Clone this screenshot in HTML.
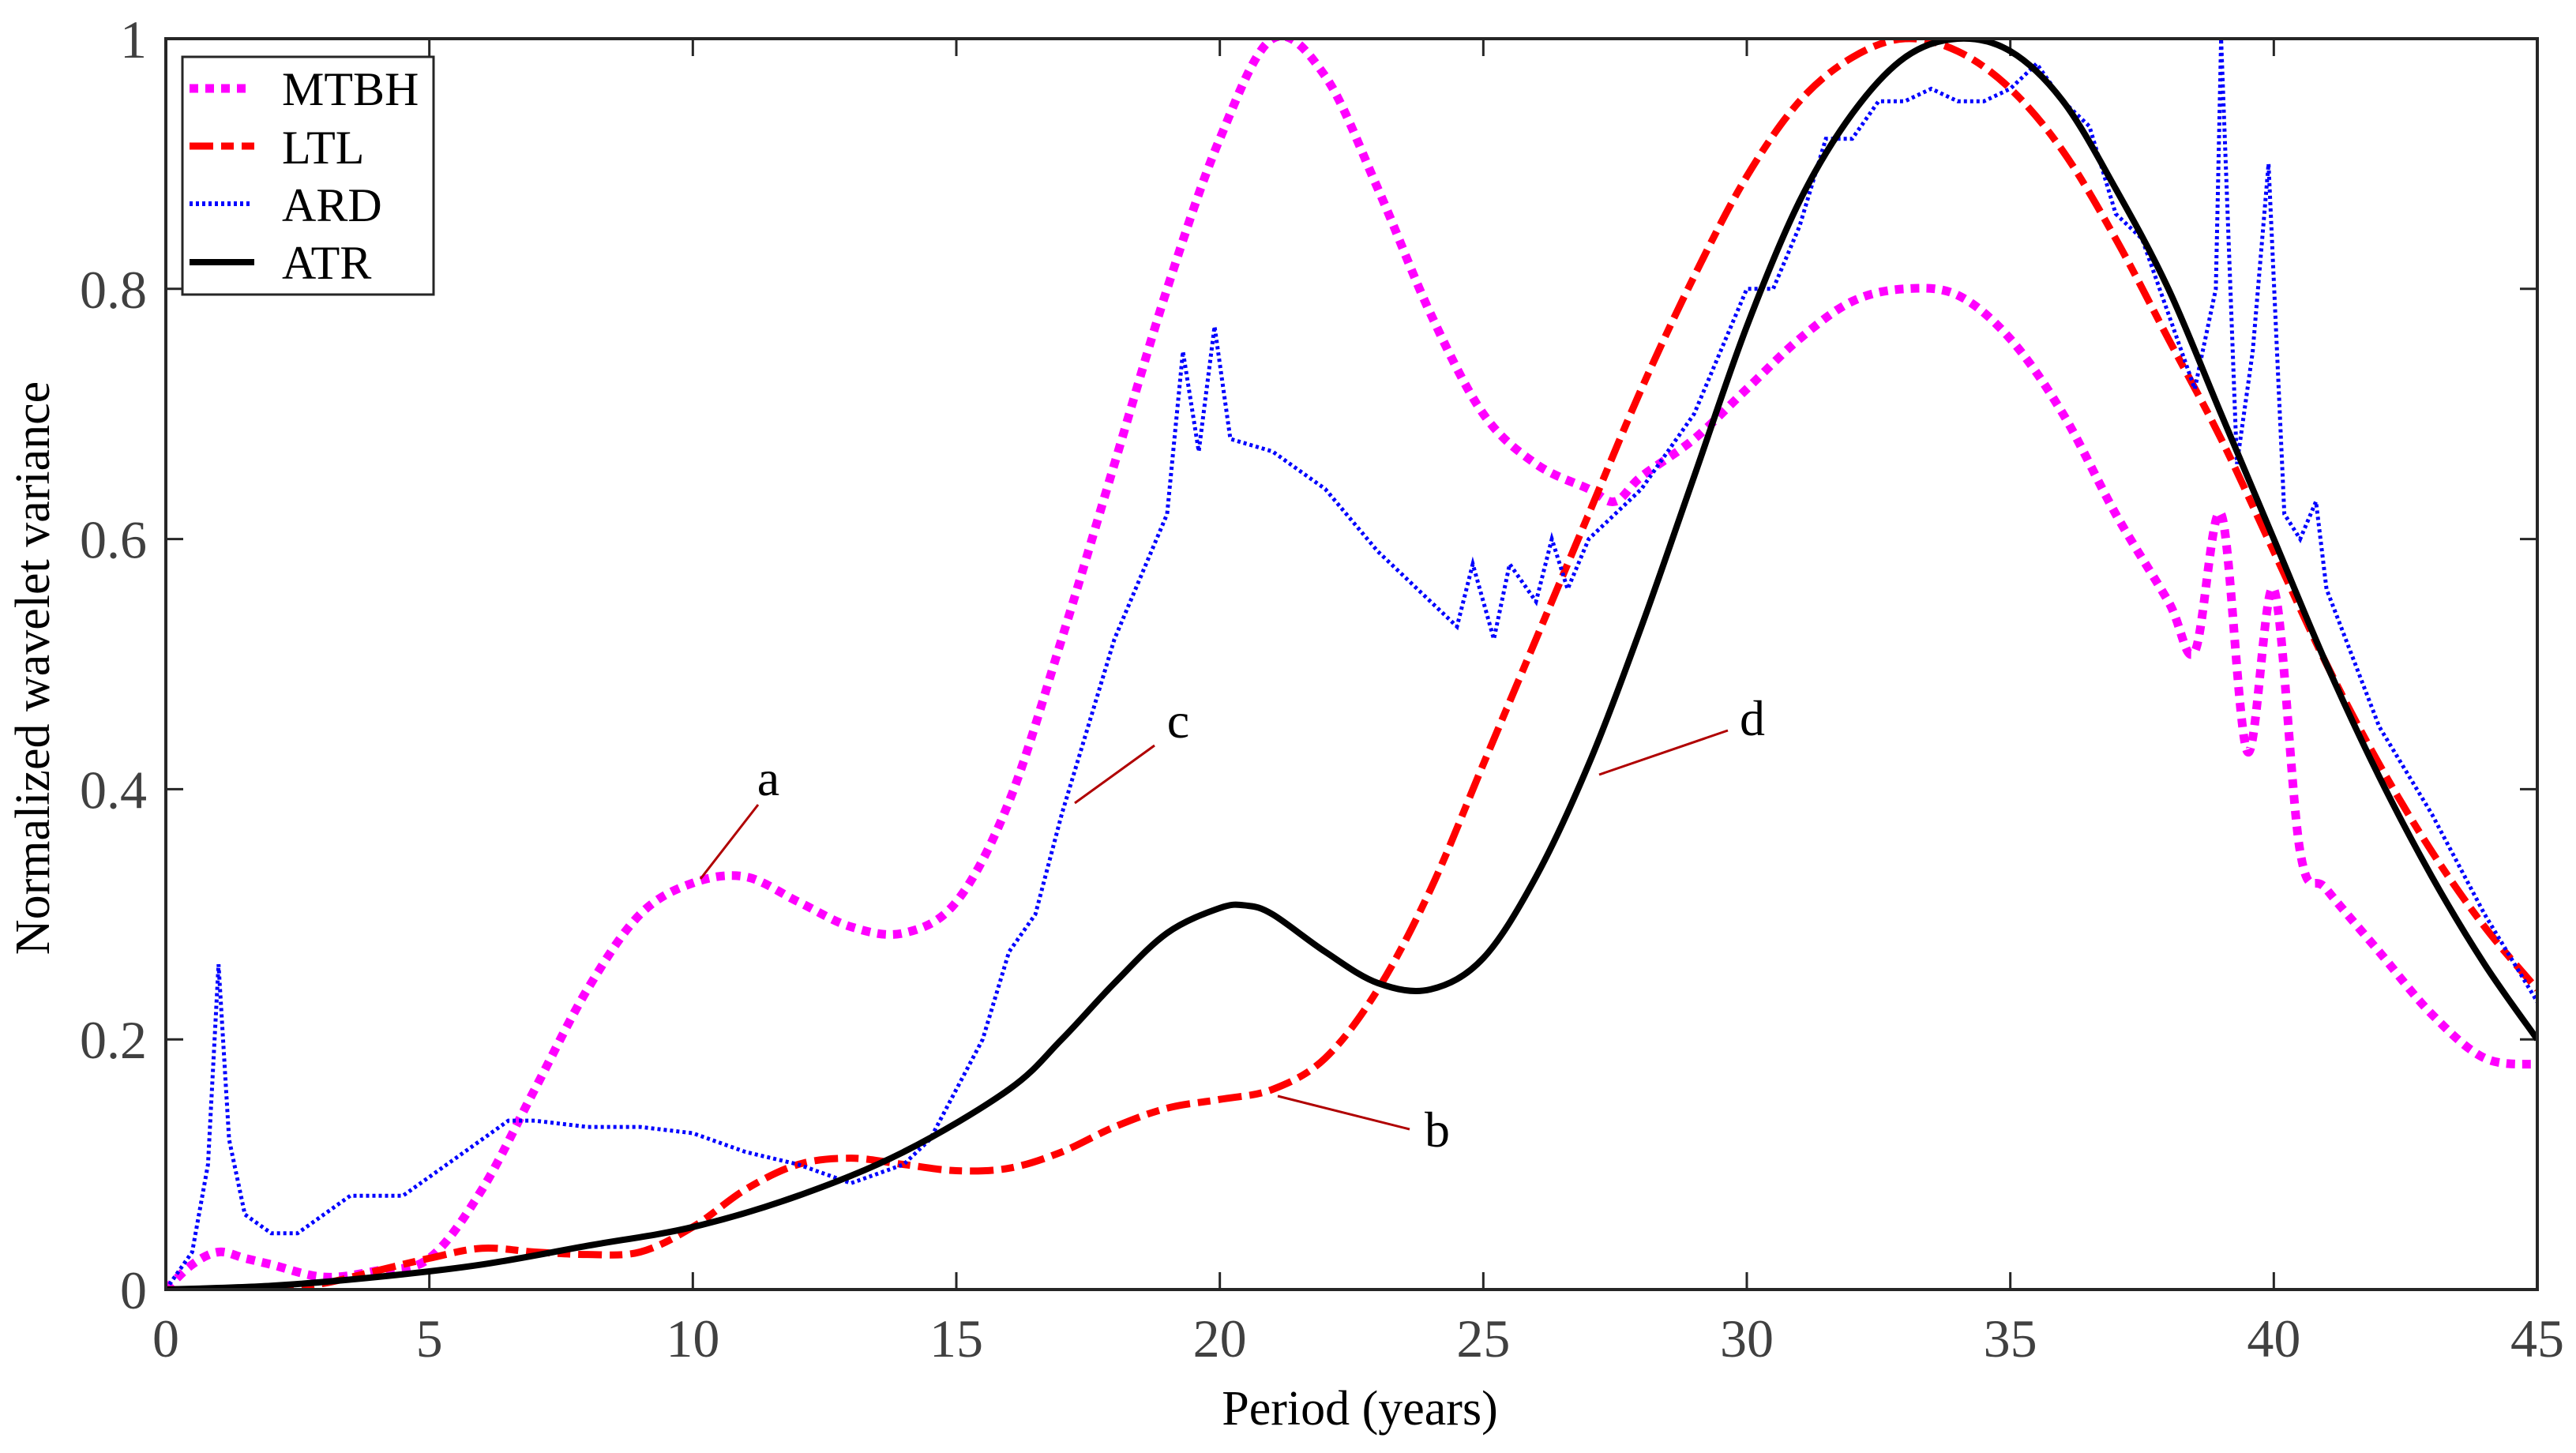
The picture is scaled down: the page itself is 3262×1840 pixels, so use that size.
<!DOCTYPE html>
<html><head><meta charset="utf-8"><style>
html,body{margin:0;padding:0;background:#fff;}
svg{display:block;font-family:"Liberation Serif",serif;}
</style></head><body>
<svg id="chart" width="3262" height="1840" viewBox="0 0 3262 1840">
<rect x="0" y="0" width="3262" height="1840" fill="#fff"/>
<g id="ticks"></g>
<g id="series" clip-path="url(#clip)"></g>
<defs><clipPath id="clip"><rect x="210" y="49" width="3003" height="1584"/></clipPath></defs>
<rect x="210" y="49" width="3003" height="1584" fill="none" stroke="#262626" stroke-width="4"/>
<g id="annot"></g>
<text x="1722" y="1804" font-size="62" text-anchor="middle" fill="#000">Period (years)</text>
<text transform="translate(62,846) rotate(-90)" font-size="62" text-anchor="middle" fill="#000">Normalized wavelet variance</text>
<g>
<rect x="231" y="72" width="318" height="301" fill="#fff" stroke="#262626" stroke-width="3"/>
<line x1="240" y1="112" x2="312" y2="112" stroke="#ff00ff" stroke-width="11" stroke-dasharray="11 9"/>
<text x="357" y="133" font-size="60">MTBH</text>
<line x1="240" y1="185" x2="322" y2="185" stroke="#ff0000" stroke-width="9" stroke-dasharray="30 10 16 10"/>
<text x="357" y="207" font-size="60">LTL</text>
<line x1="240" y1="258" x2="318" y2="258" stroke="#0000ff" stroke-width="6" stroke-dasharray="4 4"/>
<text x="357" y="280" font-size="60">ARD</text>
<line x1="240" y1="332" x2="322" y2="332" stroke="#000" stroke-width="8"/>
<text x="357" y="353" font-size="60">ATR</text>
</g>
</svg>
<script>
const xTicks=[0,5,10,15,20,25,30,35,40,45];
const yTicks=[0,0.2,0.4,0.6,0.8,1];
const yTickLabels=["0","0.2","0.4","0.6","0.8","1"];
const mtbhX=[0,0.5,1,1.5,2,3,4,5,6,7,8,9,10,11,12,13,14,15,16,17,18,19,20,21,22,23,24,25,26,27,27.5,28,29,30,31,32,33,34,35,36,37,38,38.5,39,39.5,40,40.5,41,42,43,44,45];
const mtbhY=[0,0.02,0.03,0.025,0.02,0.01,0.015,0.025,0.08,0.16,0.24,0.3,0.325,0.33,0.31,0.29,0.285,0.31,0.39,0.52,0.66,0.8,0.92,1.0,0.97,0.88,0.78,0.7,0.66,0.64,0.63,0.65,0.68,0.72,0.76,0.79,0.8,0.795,0.76,0.7,0.62,0.55,0.51,0.62,0.43,0.56,0.35,0.32,0.27,0.22,0.185,0.18];
const ltlX=[0,2,3,4,5,6,7,8,9,10,11,12,13,14,15,16,17,18,19,20,21,22,23,24,25,26,27,28,29,30,31,32,33,34,35,36,37,38,39,40,41,42,43,44,45];
const ltlY=[0,0,0.005,0.015,0.025,0.033,0.03,0.028,0.03,0.05,0.08,0.1,0.105,0.1,0.095,0.097,0.11,0.13,0.145,0.152,0.16,0.185,0.24,0.32,0.42,0.52,0.62,0.72,0.81,0.89,0.95,0.985,1.0,0.99,0.96,0.91,0.84,0.76,0.68,0.59,0.5,0.42,0.35,0.29,0.24];
const atrX=[0,2,4,6,8,10,12,14,16,17,18,19,20,20.5,21,22,23,24,25,26,27,28,29,30,31,32,33,34,35,36,37,38,39,40,41,42,43,44,45];
const atrY=[0,0.003,0.01,0.02,0.035,0.05,0.075,0.11,0.16,0.2,0.245,0.285,0.305,0.307,0.3,0.27,0.245,0.24,0.265,0.33,0.42,0.53,0.65,0.77,0.87,0.94,0.985,1.0,0.99,0.95,0.88,0.8,0.7,0.6,0.5,0.41,0.33,0.26,0.2];
const ardX=[0,0.5,0.8,1,1.2,1.5,2,2.5,3,3.5,4,4.5,5,6,6.5,7,8,9,10,11,12,13,14,14.5,15,15.5,16,16.5,17,17.5,18,18.5,19,19.3,19.6,19.9,20.2,21,22,23,24,24.5,24.8,25.2,25.5,26,26.3,26.6,27,27.5,28,29,30,30.5,31,31.5,32,32.5,33,33.5,34,34.5,35,35.5,36,36.5,37,37.5,38,38.5,38.9,39,39.3,39.6,39.9,40.2,40.5,40.8,41,42,43,44,45];
const ardY=[0,0.03,0.1,0.26,0.12,0.06,0.045,0.045,0.06,0.075,0.075,0.075,0.09,0.12,0.135,0.135,0.13,0.13,0.125,0.11,0.1,0.085,0.1,0.12,0.16,0.2,0.27,0.3,0.38,0.45,0.52,0.57,0.62,0.75,0.67,0.77,0.68,0.67,0.64,0.59,0.55,0.53,0.58,0.52,0.58,0.55,0.6,0.56,0.6,0.62,0.64,0.7,0.8,0.8,0.85,0.92,0.92,0.95,0.95,0.96,0.95,0.95,0.96,0.98,0.95,0.93,0.86,0.84,0.78,0.72,0.8,1.0,0.66,0.75,0.9,0.62,0.6,0.63,0.56,0.45,0.38,0.3,0.23];
const NS="http://www.w3.org/2000/svg";
const L=210,R=3213,T=49,B=1633;
function sx(v){return L+(v-0)/(45-0)*(R-L);}
function sy(v){return B-(v-0)/(1-0)*(B-T);}
function mk(tag,attrs,parent){const e=document.createElementNS(NS,tag);for(const k in attrs)e.setAttribute(k,attrs[k]);parent.appendChild(e);return e;}
const tg=document.getElementById('ticks');
xTicks.forEach((v,i)=>{
 const x=sx(v);
 const t1=mk('line',{x1:x,y1:B,x2:x,y2:B-22,stroke:'#262626','stroke-width':3},tg);
 
 
 const t2=mk('line',{x1:x,y1:T,x2:x,y2:T+22,stroke:'#262626','stroke-width':3},tg);
 
 
 const tx=mk('text',{x:x,y:1718,'font-size':68,'text-anchor':'middle',fill:'#404040'},tg);
 tx.textContent=String(v);
 
 
});
yTicks.forEach((v,i)=>{
 const y=sy(v);
 const t1=mk('line',{x1:L,y1:y,x2:L+22,y2:y,stroke:'#262626','stroke-width':3},tg);
 
 
 const t2=mk('line',{x1:R,y1:y,x2:R-22,y2:y,stroke:'#262626','stroke-width':3},tg);
 
 
 const tx=mk('text',{x:186,y:y+24,'font-size':68,'text-anchor':'end',fill:'#404040'},tg);
 tx.textContent=yTickLabels[i];
 
 
});
function smoothPath(xs,ys){
 const p=xs.map((x,i)=>[sx(x),sy(ys[i])]);
 let d='M'+p[0][0]+','+p[0][1];
 for(let i=0;i<p.length-1;i++){
  const p0=p[Math.max(0,i-1)],p1=p[i],p2=p[i+1],p3=p[Math.min(p.length-1,i+2)];
  const c1x=p1[0]+(p2[0]-p0[0])/6,c1y=p1[1]+(p2[1]-p0[1])/6;
  const c2x=p2[0]-(p3[0]-p1[0])/6,c2y=p2[1]-(p3[1]-p1[1])/6;
  d+=' C'+c1x+','+c1y+' '+c2x+','+c2y+' '+p2[0]+','+p2[1];
 }
 return d;
}
function linePath(xs,ys){return xs.map((x,i)=>(i?'L':'M')+sx(x)+','+sy(ys[i])).join(' ');}
const sg=document.getElementById('series');
const pM=mk('path',{d:smoothPath(mtbhX,mtbhY),fill:'none',stroke:'#ff00ff','stroke-width':11,'stroke-dasharray':'11 9'},sg);


const pL=mk('path',{d:smoothPath(ltlX,ltlY),fill:'none',stroke:'#ff0000','stroke-width':9,'stroke-dasharray':'30 10 16 10'},sg);


const pA=mk('path',{d:linePath(ardX,ardY),fill:'none',stroke:'#0000ff','stroke-width':5,'stroke-dasharray':'4 4'},sg);


const pT=mk('path',{d:smoothPath(atrX,atrY),fill:'none',stroke:'#000','stroke-width':8},sg);


const ag=document.getElementById('annot');
const annots=[["a",887,1113,960,1019,973,1007],["b",1618,1388,1785,1430,1820,1452],["c",1361,1017,1462,944,1492,934],["d",2025,981,2188,925,2219,931]];
annots.forEach(a=>{
 const ln=mk('line',{x1:a[1],y1:a[2],x2:a[3],y2:a[4],stroke:'#b00000','stroke-width':3},ag);
 
 
 const t=mk('text',{x:a[5],y:a[6],'font-size':64,'text-anchor':'middle',fill:'#000'},ag);
 t.textContent=a[0];
 
 
});
</script>
</body></html>
